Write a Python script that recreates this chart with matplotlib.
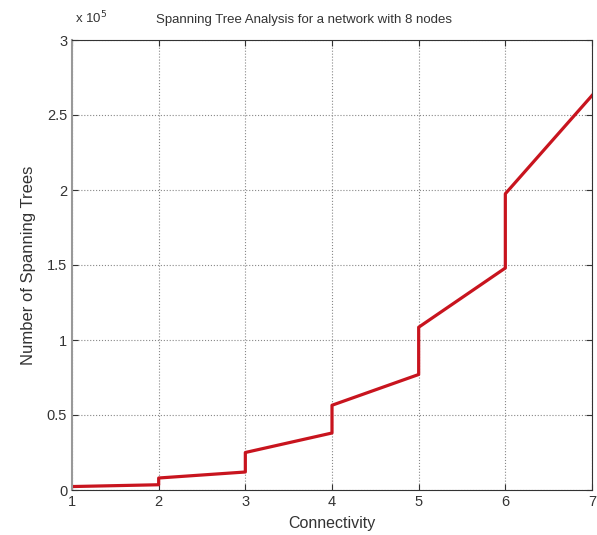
import matplotlib
matplotlib.use('Agg')
import matplotlib.pyplot as plt
import numpy as np

plt.rcParams['font.family'] = ['Liberation Sans', 'DejaVu Sans']

# connectivity vs number of spanning trees (jumps at each integer)
conn = [1, 2, 2, 3, 3, 4, 4, 5, 5, 6, 6, 7]
trees = [2300, 3500, 8000, 12000, 25000, 38000, 56500, 77000, 108500, 148000, 197500, 263000]

xticks = [1, 2, 3, 4, 5, 6, 7]
yticks = [0, 0.5e5, 1e5, 1.5e5, 2e5, 2.5e5, 3e5]
ylabels = ['0', '0.5', '1', '1.5', '2', '2.5', '3']

fig = plt.figure(figsize=(5.97, 5.35), dpi=100)
ax = fig.add_axes([72/597, 1 - 490/535, 520/597, 450/535])

ax.plot(conn, trees, color='#c8141e', linewidth=2.3)

ax.set_xlim(1, 7)
ax.set_ylim(0, 3e5)
ax.set_xticks(xticks)
ax.set_yticks(yticks)
ax.set_yticklabels(ylabels)
ax.tick_params(direction='in', labelsize=10.5, colors='#333333', length=4, top=True, right=True)
ax.grid(True, linestyle=':', color='#888888', linewidth=0.8)
for s in ax.spines.values():
    s.set_color('#333333')
ax.spines['left'].set_color('#999999')
ax.spines['left'].set_linewidth(1.5)

ax.set_xlabel('Connectivity', fontsize=11.5, color='#333333', labelpad=5)
ax.set_ylabel('Number of Spanning Trees', fontsize=12, color='#333333', labelpad=8)
ax.set_title('Spanning Tree Analysis for a network with 8 nodes', fontsize=9.5,
             color='#333333', x=0.446, pad=12)
ax.text(0.005, 1.03, r'x 10$^5$', transform=ax.transAxes, fontsize=9.5, color='#333333',
        va='bottom', ha='left')

fig.savefig('out.png', dpi=100)
